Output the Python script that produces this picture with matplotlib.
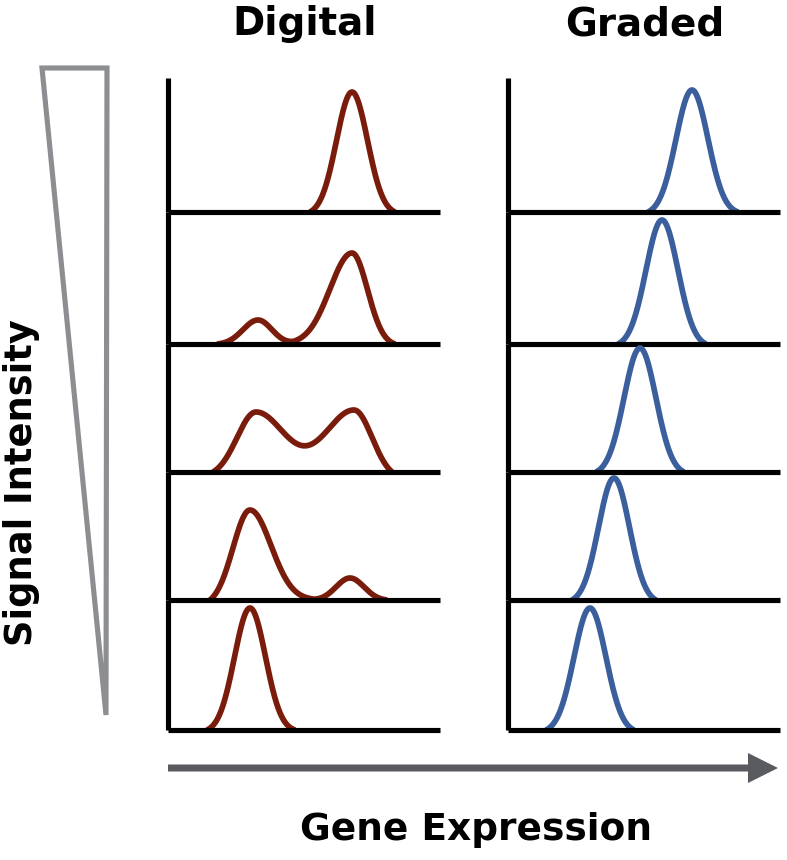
import numpy as np
import matplotlib
matplotlib.use("Agg")
import matplotlib.pyplot as plt
from matplotlib.patches import Polygon

# ------------------------------------------------------------------ data
# x positions are gene-expression units along a 272-wide axis, heights in the same units
row_heights = [134, 132, 128, 128, 130]          # top row = strongest signal

digital_centers = [[184], [90, 184], [88, 186], [82, 182], [82]]
digital_heights = [[120], [24, 91], [60, 62], [90, 22], [122]]
# (left, right) reach of each peak down to the baseline
digital_spread = [[(42, 43)], [(41, 36), (94, 43)], [(43, 98), (98, 38)],
                  [(40, 96), (36, 37)], [(43, 45)]]
# (left, right) spread (sigma) of each peak
digital_sigma = [[(15.5, 15.5)], [(15, 14), (22, 15.5)], [(19, 28), (28, 18)],
                 [(17, 21), (14, 14)], [(15.5, 15.5)]]

graded_centers = [[184], [154], [132], [106], [82]]
graded_heights = [[122], [124], [124], [122], [122]]
graded_spread = [[(44, 46)], [(44, 44)], [(44, 44)], [(42, 42)], [(44, 44)]]
graded_sigma = [[(16, 16)], [(16, 16)], [(16, 16)], [(15.5, 15.5)], [(16, 16)]]

panel_titles = ["Digital", "Graded"]
panel_colors = ["#7a1c0c", "#3b5e9c"]

W, H = 787, 860
DPI = 100
LW = 3.7


def side(d, w, sig):
    g = np.exp(-0.5 * (d / sig) ** 2)
    gw = np.exp(-0.5 * (w / sig) ** 2)
    out = (g - gw) / (1 - gw)
    out[d > w] = 0
    return np.clip(out, 0, None)


def row_curve(centers, heights, spread, sigmas):
    lo = min(c - s[0] for c, s in zip(centers, spread))
    hi = max(c + s[1] for c, s in zip(centers, spread))
    x = np.linspace(lo, hi, 600)
    y = np.zeros_like(x)
    for c, a, s, t in zip(centers, heights, spread, sigmas):
        d = x - c
        part = np.where(d < 0, side(np.abs(d), s[0], t[0]), side(np.abs(d), s[1], t[1]))
        y += a * part
    return x, y


fig = plt.figure(figsize=(W / DPI, H / DPI), dpi=DPI)

# overlay in pixel units for the triangle and the arrow
bg = fig.add_axes([0, 0, 1, 1])
bg.set_xlim(0, W)
bg.set_ylim(H, 0)
bg.axis("off")

bg.add_patch(Polygon([(42, 68), (107, 68), (106, 715)], closed=True, fill=False,
                     edgecolor="#8d8e92", lw=LW, joinstyle="miter"))
bg.arrow(168, 768, 610, 0, width=7, head_width=30, head_length=30,
         length_includes_head=True, color="#5a5b60", lw=0)

panels = [
    (168, digital_centers, digital_heights, digital_spread, digital_sigma),
    (508, graded_centers, graded_heights, graded_spread, graded_sigma),
]

font = "DejaVu Sans"
top0 = 78
for p, (left_px, centers, heights, spread, sigmas) in enumerate(panels):
    top = top0
    for i, h in enumerate(row_heights):
        bottom = top + h
        ax = fig.add_axes([left_px / W, (H - bottom) / H, 272 / W, h / H])
        ax.set_xlim(0, 272)
        ax.set_ylim(0, h)
        ax.patch.set_alpha(0)
        for s in ["top", "right"]:
            ax.spines[s].set_visible(False)
        for s in ["left", "bottom"]:
            ax.spines[s].set_linewidth(LW)
            ax.spines[s].set_color("black")
            ax.spines[s].set_capstyle("butt")
        ax.set_xticks([])
        ax.set_yticks([])
        x, y = row_curve(centers[i], heights[i], spread[i], sigmas[i])
        ax.plot(x, y, color=panel_colors[p], lw=4.1, solid_capstyle="butt",
                solid_joinstyle="round", clip_on=False, zorder=1)
        top = bottom
    fig.text((left_px + 137) / W, 1 - 24 / H, panel_titles[p], ha="center", va="center",
             fontsize=28, fontweight="bold", family=font)

fig.text(22 / W, 1 - 483 / H, "Signal Intensity", rotation=90, ha="center", va="center",
         fontsize=26.5, fontweight="bold", family=font)
fig.text(476 / W, 1 - 830 / H, "Gene Expression", ha="center", va="center",
         fontsize=27, fontweight="bold", family=font)

fig.savefig("out.png", dpi=DPI, facecolor="white")
